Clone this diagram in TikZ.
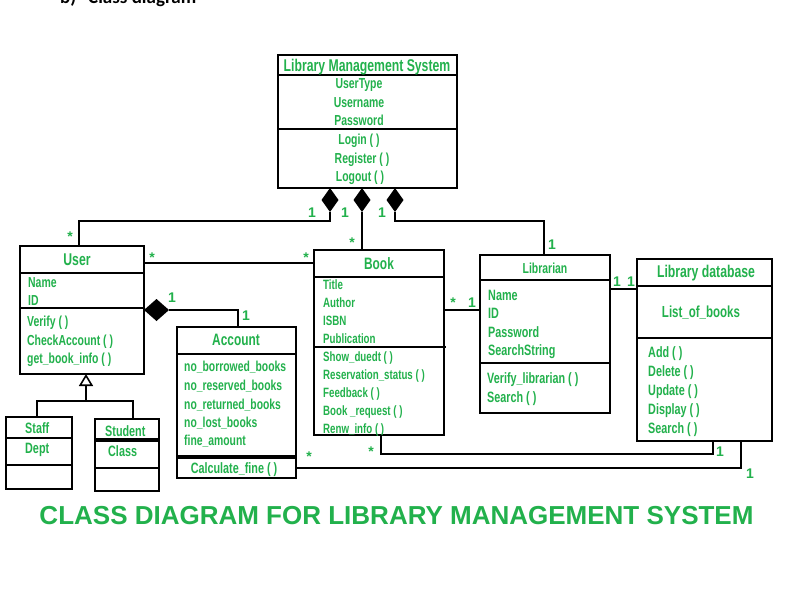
\documentclass[tikz,border=0pt]{standalone}
\usepackage{fontspec}
\setmainfont{Liberation Sans}
\newfontfamily\condf{Liberation Sans}[FakeStretch=0.72]
\newfontfamily\calib{Carlito}
\usetikzlibrary{shapes.geometric,arrows.meta}
\definecolor{grn}{HTML}{22B14C}
\newcommand\gfs[1]{\condf\bfseries\fontsize{#1}{#1}\selectfont}
\tikzset{
  box/.style={draw, line width=2.4pt, inner sep=0pt, outer sep=0pt, anchor=north west},
  sep/.style={line width=2.4pt},
  thicksep/.style={line width=4pt},
  conn/.style={line width=2pt},
  comp/.style={diamond, fill=black, draw=none, inner sep=0pt, outer sep=0pt},
  gt/.style={text=grn, inner sep=0pt, anchor=mid, yshift=-3pt},
  gi/.style={text=grn, inner sep=0pt, anchor=mid west, yshift=-3pt},
  lbl/.style={text=grn, inner sep=0pt, anchor=mid, yshift=-3pt, font=\bfseries\fontsize{14}{14}\selectfont},
}
\begin{document}
\begin{tikzpicture}[x=1pt,y=-1pt]
\useasboundingbox (0,0) rectangle (805,613);
\fill[white] (0,0) rectangle (805,613);

% clipped heading at the top
\node[anchor=base west, inner sep=0pt, font=\calib\bfseries\fontsize{19}{19}\selectfont] (hb) at (60,3) {b)};
\node[anchor=base west, inner sep=0pt, font=\calib\bfseries\fontsize{19}{19}\selectfont] (hc) at (88,3) {Class diagram};

% ---- Library Management System
\node[box, minimum width=179pt, minimum height=133pt] (lms) at (278,55) {};
\draw[sep] (278,75) -- (457,75);
\draw[sep] (278,129) -- (457,129);
\node[gt, font=\gfs{17}] (lmst) at (367,66) {Library Management System};
\node[gt, font=\gfs{14.5}] (lms1) at (359,83) {UserType};
\node[gt, font=\gfs{14.5}] (lms2) at (359,102) {Username};
\node[gt, font=\gfs{14.5}] (lms3) at (359,120) {Password};
\node[gt, font=\gfs{14.5}] (lms4) at (359,139) {Login ( )};
\node[gt, font=\gfs{14.5}] (lms5) at (362,158) {Register ( )};
\node[gt, font=\gfs{14.5}] (lms6) at (360,176) {Logout ( )};

% ---- User
\node[box, minimum width=124pt, minimum height=128pt] (user) at (20,246) {};
\draw[sep] (20,273) -- (144,273);
\draw[sep] (20,308) -- (144,308);
\node[gt, font=\gfs{17}] (usert) at (77,260) {User};
\node[gi, font=\gfs{14.5}] (u1) at (28,282) {Name};
\node[gi, font=\gfs{14.5}] (u2) at (28,300) {ID};
\node[gi, font=\gfs{14.5}] (u3) at (27,321) {Verify ( )};
\node[gi, font=\gfs{14.5}] (u4) at (27,340) {CheckAccount ( )};
\node[gi, font=\gfs{14.5}] (u5) at (27,358) {get\_book\_info ( )};

% ---- Book
\node[box, minimum width=130pt, minimum height=185pt] (book) at (314,250) {};
\draw[sep] (314,277) -- (444,277);
\draw[sep] (314,347) -- (446,347);
\node[gt, font=\gfs{16.5}] (bookt) at (379,264) {Book};
\node[gi, font=\gfs{13.5}] (b1) at (323,284) {Title};
\node[gi, font=\gfs{13.5}] (b2) at (323,302) {Author};
\node[gi, font=\gfs{13.5}] (b3) at (323,320) {ISBN};
\node[gi, font=\gfs{13.5}] (b4) at (323,338) {Publication};
\node[gi, font=\gfs{13.5}] (b5) at (323,356) {Show\_duedt ( )};
\node[gi, font=\gfs{13.5}] (b6) at (323,374) {Reservation\_status ( )};
\node[gi, font=\gfs{13.5}] (b7) at (323,392) {Feedback ( )};
\node[gi, font=\gfs{13.5}] (b8) at (323,410) {Book \_request ( )};
\node[gi, font=\gfs{13.5}] (b9) at (323,428) {Renw\_info ( )};

% ---- Librarian
\node[box, minimum width=130pt, minimum height=158pt] (lib) at (480,255) {};
\draw[sep] (480,280) -- (610,280);
\draw[sep] (480,363) -- (610,363);
\node[gt, font=\gfs{14.5}] (libt) at (545,268) {Librarian};
\node[gi, font=\gfs{15}] (l1) at (488,295) {Name};
\node[gi, font=\gfs{15}] (l2) at (488,313) {ID};
\node[gi, font=\gfs{15}] (l3) at (488,332) {Password};
\node[gi, font=\gfs{15}] (l4) at (488,350) {SearchString};
\node[gi, font=\gfs{15}] (l5) at (487,378) {Verify\_librarian ( )};
\node[gi, font=\gfs{15}] (l6) at (487,397) {Search ( )};

% ---- Library database
\node[box, minimum width=135pt, minimum height=182pt] (db) at (637,259) {};
\draw[sep] (637,286) -- (772,286);
\draw[sep] (637,338) -- (772,338);
\node[gt, font=\gfs{17}] (dbt) at (706,272) {Library database};
\node[gt, font=\gfs{16}] (db0) at (701,312) {List\_of\_books};
\node[gi, font=\gfs{15}] (db1) at (648,352) {Add ( )};
\node[gi, font=\gfs{15}] (db2) at (648,371) {Delete ( )};
\node[gi, font=\gfs{15}] (db3) at (648,390) {Update ( )};
\node[gi, font=\gfs{15}] (db4) at (648,409) {Display ( )};
\node[gi, font=\gfs{15}] (db5) at (648,428) {Search ( )};

% ---- Account
\node[box, minimum width=119pt, minimum height=151pt] (acc) at (177,327) {};
\draw[sep] (177,354) -- (296,354);
\draw[thicksep] (177,457) -- (296,457);
\node[gt, font=\gfs{16.5}] (acct) at (236,340) {Account};
\node[gi, font=\gfs{14.4}] (a1) at (184,366) {no\_borrowed\_books};
\node[gi, font=\gfs{14.4}] (a2) at (184,385) {no\_reserved\_books};
\node[gi, font=\gfs{14.4}] (a3) at (184,404) {no\_returned\_books};
\node[gi, font=\gfs{14.4}] (a4) at (184,422) {no\_lost\_books};
\node[gi, font=\gfs{14.4}] (a5) at (184,440) {fine\_amount};
\node[gt, font=\gfs{15}] (a6) at (234,468) {Calculate\_fine ( )};

% ---- Staff
\node[box, minimum width=66pt, minimum height=72pt] (staff) at (6,417) {};
\draw[sep] (6,438) -- (72,438);
\draw[sep] (6,465) -- (72,465);
\node[gi, font=\gfs{15}] (s1) at (25,428) {Staff};
\node[gi, font=\gfs{15}] (s2) at (25,448) {Dept};

% ---- Student
\node[box, minimum width=64pt, minimum height=72pt] (stu) at (95,419) {};
\draw[thicksep] (95,440) -- (159,440);
\draw[sep] (95,468) -- (159,468);
\node[gi, font=\gfs{15}] (st1) at (105,431) {Student};
\node[gi, font=\gfs{15}] (st2) at (108,451) {Class};

% ---- composition diamonds
\node[comp, minimum width=17pt, minimum height=24pt, anchor=north] (d1) at (330,188) {};
\node[comp, minimum width=17pt, minimum height=24pt, anchor=north] (d2) at (362,188) {};
\node[comp, minimum width=17pt, minimum height=24pt, anchor=north] (d3) at (395,188) {};
\node[comp, minimum width=25pt, minimum height=22pt, anchor=west] (d4) at (user.east |- 0,310) {};

% ---- connectors
\draw[conn] (d1.south) -- (d1.south |- 0,221) -| ([xshift=-3pt]user.north);
\draw[conn] (d2.south) -- (d2.south |- book.north);
\draw[conn] (d3.south) -- (d3.south |- 0,221) -| ([xshift=-1pt]lib.north);
\draw[conn] (user.east |- 0,263) -- (book.west |- 0,263);
\draw[conn] (book.east |- 0,310) -- (lib.west |- 0,310);
\draw[conn] (lib.east |- 0,289) -- (db.west |- 0,289);
\draw[conn] (d4.east) -| ([xshift=1.5pt]acc.north);
\draw[conn] ([xshift=2pt]book.south) -- ++(0,19) -| ([xshift=8.5pt]db.south);
\draw[conn] (acc.east |- 0,468) -| ([xshift=36.5pt]db.south);

\coordinate (jn) at (86,401);
\draw[conn] ([xshift=-2pt]staff.north) |- (jn) -| ([xshift=6pt]stu.north);
\draw[conn, -{Triangle[open, width=14pt, length=12pt, line width=1.6pt]}] (jn) -- (jn |- user.south);

% ---- multiplicities
\node[lbl] (m1) at (70,236) {*};
\node[lbl] (m2) at (312,212) {1};
\node[lbl] (m3) at (345,212) {1};
\node[lbl] (m4) at (382,212) {1};
\node[lbl] (m5) at (352,242) {*};
\node[lbl] (m6) at (552,244) {1};
\node[lbl] (m7) at (152,257) {*};
\node[lbl] (m8) at (306,257) {*};
\node[lbl] (m9) at (453,302) {*};
\node[lbl] (m10) at (472,302) {1};
\node[lbl] (m11) at (617,281) {1};
\node[lbl] (m12) at (631,281) {1};
\node[lbl] (m13) at (172,297) {1};
\node[lbl] (m14) at (246,315) {1};
\node[lbl] (m15) at (371,451) {*};
\node[lbl] (m16) at (720,451) {1};
\node[lbl] (m17) at (309,456) {*};
\node[lbl] (m18) at (750,473) {1};

% ---- caption
\node[text=grn, inner sep=0pt, anchor=mid, yshift=-6pt, font=\bfseries\fontsize{26}{26}\selectfont] (cap) at (396.5,516) {CLASS DIAGRAM FOR LIBRARY MANAGEMENT SYSTEM};
\end{tikzpicture}
\end{document}
